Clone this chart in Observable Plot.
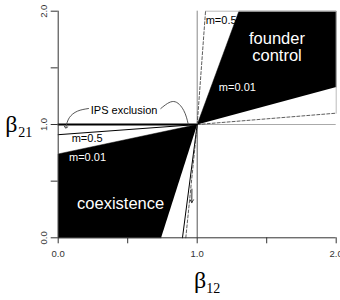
<!DOCTYPE html>
<html><head><meta charset="utf-8">
<script src="https://cdn.jsdelivr.net/npm/d3@7"></script>
<script src="https://cdn.jsdelivr.net/npm/@observablehq/plot@0.6"></script>
<style>body{margin:0;background:#fff} svg{display:block}</style>
</head><body><div id="chart"></div>
<script>
// Region vertices as [β12, β21]
const founderM001 = [[1,1],[1.30,2],[2,2],[2,1.33]];
const coexistM001 = [[1,1],[0,0.74],[0,0],[0.74,0]];
const founderM05Outline = [[1.06,2],[2,2],[2,1.10]];
const founderM05Dashed = [[[1,1],[1.06,2]],[[1,1],[2,1.10]]];
const coexistM05Left = [[0,0.91],[1,1]];
const coexistM05Bottom = [[0.894,0],[1,1]];
const coexistM05Dashed = [[0.918,0],[1,1]];
// IPS exclusion leaders
const leaderLeft = [[0.218,1.141],[0.139,1.118],[0.080,1.060],[0.055,0.975]];
const leaderRight = [[0.738,1.141],[0.831,1.203],[0.903,1.124],[0.935,1.005]];
const arrowDown = [{x1:0.962,y1:0.43,x2:0.961,y2:0.31}];
// Labels
const regionLabels = [
  {x:1.574, y:1.684, text:"founder\ncontrol"},
  {x:0.449, y:0.303, text:"coexistence"}
];
const blackLabels = [
  {x:1.172, y:1.918, text:"m=0.5"},
  {x:0.474, y:1.124, text:"IPS exclusion"},
  {x:0.208, y:0.876, text:"m=0.5"}
];
const whiteLabels = [
  {x:1.289, y:1.326, text:"m=0.01"},
  {x:0.211, y:0.709, text:"m=0.01"}
];
const tickValues = [0, 0.5, 1, 1.5, 2];
const labeledTicks = [0, 1, 2];
const tickLabels = {0:"0.0", 1:"1.0", 2:"2.0"};
const xLabel = ["β", "12"];
const yLabel = ["β", "21"];

const fx = d => d[0], fy = d => d[1];
const sans = "Liberation Sans, Arial, Helvetica, sans-serif";
const serif = "Liberation Serif, Times New Roman, serif";

const chart = Plot.plot({
  width: 340, height: 300,
  marginLeft: 57.7, marginRight: 4.3, marginTop: 10.7, marginBottom: 62.7,
  style: {fontFamily: sans, background: "#fff", overflow: "visible"},
  x: {domain: [0, 2], axis: null},
  y: {domain: [0, 2], axis: null},
  marks: [
    Plot.line(founderM001, {x: fx, y: fy, fill: "black", stroke: "black", strokeWidth: 0.5}),
    Plot.line(coexistM001, {x: fx, y: fy, fill: "black", stroke: "black", strokeWidth: 0.5}),
    Plot.line(founderM05Outline, {x: fx, y: fy, stroke: "#bbb", strokeWidth: 1}),
    Plot.ruleX([1], {y1: 1, y2: 2, stroke: "#888", strokeWidth: 1}),
    Plot.ruleX([1], {y1: 0, y2: 1, stroke: "#555", strokeWidth: 1}),
    Plot.ruleY([1], {x1: 1, x2: 2, stroke: "#aaa", strokeWidth: 1}),
    ...founderM05Dashed.map(seg => Plot.line(seg, {x: fx, y: fy, stroke: "#333", strokeWidth: 0.8, strokeDasharray: "3,2"})),
    Plot.line(coexistM05Left, {x: fx, y: fy, stroke: "black", strokeWidth: 1}),
    Plot.line(coexistM05Bottom, {x: fx, y: fy, stroke: "black", strokeWidth: 1}),
    Plot.line(coexistM05Dashed, {x: fx, y: fy, stroke: "#333", strokeWidth: 0.8, strokeDasharray: "3,2"}),
    Plot.ruleY([1], {x1: 0, x2: 1, stroke: "black", strokeWidth: 2}),
    Plot.line(leaderLeft, {x: fx, y: fy, curve: "natural", stroke: "#444", strokeWidth: 0.9, markerEnd: "arrow"}),
    Plot.line(leaderRight, {x: fx, y: fy, curve: "natural", stroke: "#444", strokeWidth: 0.9}),
    Plot.arrow(arrowDown, {x1: "x1", y1: "y1", x2: "x2", y2: "y2", stroke: "#333", strokeWidth: 1, headLength: 5}),
    // axes
    Plot.ruleX([0], {y1: 0, y2: 2, stroke: "#333"}),
    Plot.ruleY([0], {x1: 0, x2: 2, stroke: "#333"}),
    Plot.axisX({ticks: tickValues, tickSize: 6, tickPadding: 6, fontSize: 9.5,
      tickFormat: d => tickLabels[d] ?? "", stroke: "#333", color: "#333"}),
    Plot.axisY({ticks: tickValues, tickSize: 7, tickFormat: () => "", stroke: "#333"}),
    Plot.text(labeledTicks, {x: 0, y: d => d, text: d => tickLabels[d], rotate: -90,
      textAnchor: "middle", lineAnchor: "middle", dx: -14, fontSize: 9.5, fill: "#333"}),
    // labels
    Plot.text(regionLabels, {x: "x", y: "y", text: "text", fill: "white", fontSize: 16.5, lineHeight: 1.0}),
    Plot.text(blackLabels, {x: "x", y: "y", text: "text", fill: "black", fontSize: 11}),
    Plot.text(whiteLabels, {x: "x", y: "y", text: "text", fill: "white", fontSize: 11}),
    // axis titles
    Plot.text([xLabel[0]], {x: 1, y: 0, text: d => d, fontFamily: serif, fontSize: 24, textAnchor: "end", lineAnchor: "bottom", dx: 9, dy: 50}),
    Plot.text([xLabel[1]], {x: 1, y: 0, text: d => d, fontFamily: serif, fontSize: 14, textAnchor: "start", lineAnchor: "bottom", dx: 9, dy: 55}),
    Plot.text([yLabel[0]], {x: 0, y: 1, text: d => d, fontFamily: serif, fontSize: 24, textAnchor: "start", lineAnchor: "bottom", dx: -53, dy: 7}),
    Plot.text([yLabel[1]], {x: 0, y: 1, text: d => d, fontFamily: serif, fontSize: 14, textAnchor: "start", lineAnchor: "bottom", dx: -40, dy: 12})
  ]
});
document.getElementById("chart").append(chart);
</script>
</body></html>
